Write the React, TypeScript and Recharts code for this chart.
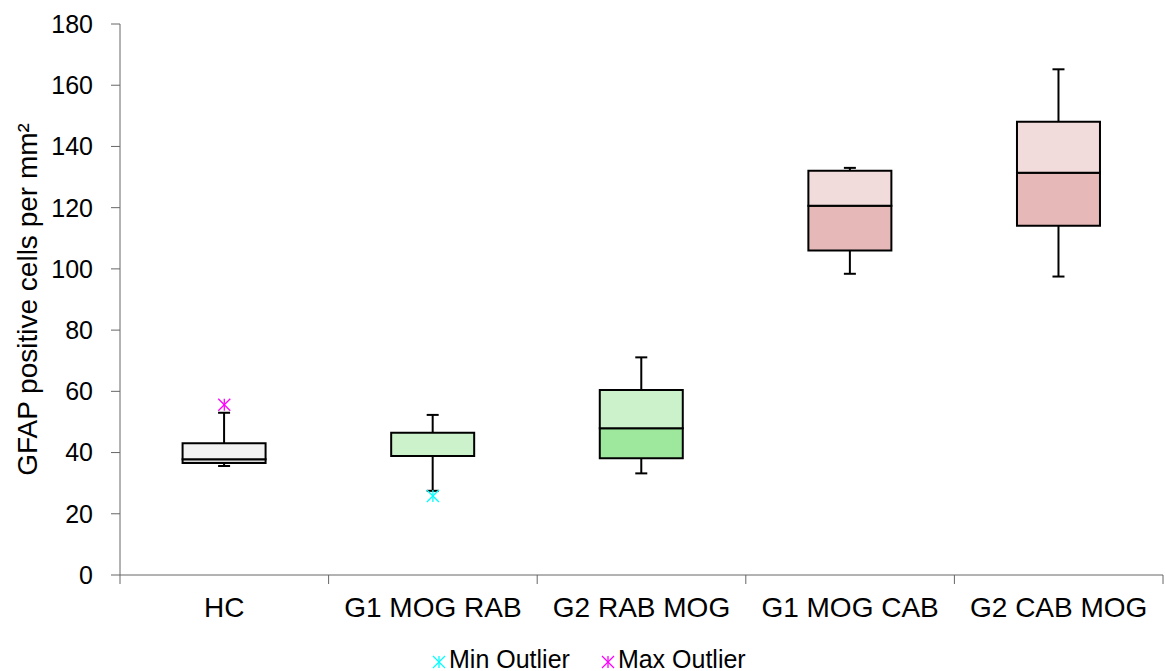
import { Bar, Cell, ComposedChart, Scatter, XAxis, YAxis } from 'recharts';

const categories = ['HC', 'G1 MOG RAB', 'G2 RAB MOG', 'G1 MOG CAB', 'G2 CAB MOG'];
const mins = [35.6, 27.5, 33.2, 98.4, 97.5];
const q1s = [36.6, 38.9, 38.1, 106.0, 114.1];
const medians = [37.8, 38.9, 47.9, 120.6, 131.4];
const q3s = [43.0, 46.5, 60.4, 132.1, 148.1];
const maxs = [53.0, 52.3, 71.1, 133.0, 165.2];
const minOutliers = [null, 25.8, null, null, null];
const maxOutliers = [55.6, null, null, null, null];
const yTicks = [0, 20, 40, 60, 80, 100, 120, 140, 160, 180];

const lowerFills = ['#d9d9d9', '#9de89d', '#9de89d', '#e6b9b8', '#e6b9b8'];
const upperFills = ['#f2f2f2', '#ccf2cc', '#ccf2cc', '#f2dcdb', '#f2dcdb'];

const FONT = '"Liberation Sans", Arial, sans-serif';
const AXIS = '#666';

const data = categories.map((name, i) => ({
  name,
  base: mins[i],
  lowWhisker: q1s[i] - mins[i],
  lowerBox: medians[i] - q1s[i],
  upperBox: q3s[i] - medians[i],
  highWhisker: maxs[i] - q3s[i],
  minOut: minOutliers[i],
  maxOut: maxOutliers[i],
}));

// whisker below the box: cap at the bottom end
const LowWhisker = (props: any) => {
  const { x, y, width, height } = props;
  const cx = x + width / 2;
  const end = y + height;
  return (
    <g stroke="#000" strokeWidth={2}>
      <line x1={cx} y1={y} x2={cx} y2={end} />
      <line x1={cx - 6} y1={end} x2={cx + 6} y2={end} />
    </g>
  );
};

// whisker above the box: cap at the top end
const HighWhisker = (props: any) => {
  const { x, y, width, height } = props;
  const cx = x + width / 2;
  return (
    <g stroke="#000" strokeWidth={2}>
      <line x1={cx} y1={y + height} x2={cx} y2={y} />
      <line x1={cx - 6} y1={y} x2={cx + 6} y2={y} />
    </g>
  );
};

const Star = ({ cx, cy, color, r = 6 }: { cx: number; cy: number; color: string; r?: number }) => (
  <g stroke={color} strokeWidth={1.3}>
    <line x1={cx} y1={cy - r} x2={cx} y2={cy + r} />
    <line x1={cx - r} y1={cy - r} x2={cx + r} y2={cy + r} />
    <line x1={cx - r} y1={cy + r} x2={cx + r} y2={cy - r} />
  </g>
);

const outlierShape = (key: string, color: string) => (props: any) => {
  const v = props.payload ? props.payload[key] : null;
  if (v == null || !Number.isFinite(props.cx) || !Number.isFinite(props.cy)) return <g />;
  return <Star cx={props.cx} cy={props.cy} color={color} />;
};

// category label plus tick marks on the category boundaries
const CategoryTick = (props: any) => {
  const { x, y, payload, index } = props;
  const half = payload && payload.offset ? payload.offset : 0;
  return (
    <g>
      <line x1={x - half} y1={y} x2={x - half} y2={y + 9} stroke={AXIS} />
      {index === categories.length - 1 && (
        <line x1={x + half} y1={y} x2={x + half} y2={y + 9} stroke={AXIS} />
      )}
      <text x={x} y={y + 22} dy="0.71em" textAnchor="middle" fill="#000" fontSize={28} fontFamily={FONT}>
        {payload.value}
      </text>
    </g>
  );
};

const legendItems = [
  { label: 'Min Outlier', color: '#00ffff' },
  { label: 'Max Outlier', color: '#ff00ff' },
];

export default function App() {
  return (
    <div style={{ position: 'absolute', left: 0, top: 0, width: 1165, height: 671, fontFamily: FONT, background: '#fff' }}>
      <ComposedChart
        width={1165}
        height={671}
        data={data}
        margin={{ top: 24, right: 2, bottom: 36, left: 0 }}
        barCategoryGap="30%"
      >
        <XAxis
          dataKey="name"
          stroke={AXIS}
          tickLine={false}
          tickSize={0}
          tickMargin={0}
          height={60}
          interval={0}
          tick={<CategoryTick />}
        />
        <YAxis
          width={120}
          domain={[0, 180]}
          ticks={yTicks}
          interval={0}
          tickSize={9}
          tickMargin={18}
          stroke={AXIS}
          tick={{ fill: '#000', fontSize: 25, fontFamily: FONT }}
          label={{
            value: 'GFAP positive cells per mm²',
            angle: -90,
            position: 'insideLeft',
            offset: 27,
            style: { textAnchor: 'middle', fill: '#000', fontSize: 28, fontFamily: FONT },
          }}
        />
        <Bar dataKey="base" stackId="box" fill="transparent" isAnimationActive={false} />
        <Bar dataKey="lowWhisker" stackId="box" shape={LowWhisker} isAnimationActive={false} />
        <Bar dataKey="lowerBox" stackId="box" stroke="#000" strokeWidth={2} isAnimationActive={false}>
          {data.map((d, i) => (
            <Cell key={d.name} fill={lowerFills[i]} />
          ))}
        </Bar>
        <Bar dataKey="upperBox" stackId="box" stroke="#000" strokeWidth={2} isAnimationActive={false}>
          {data.map((d, i) => (
            <Cell key={d.name} fill={upperFills[i]} />
          ))}
        </Bar>
        <Bar dataKey="highWhisker" stackId="box" shape={HighWhisker} isAnimationActive={false} />
        <Scatter dataKey="minOut" shape={outlierShape('minOut', '#00ffff')} isAnimationActive={false} />
        <Scatter dataKey="maxOut" shape={outlierShape('maxOut', '#ff00ff')} isAnimationActive={false} />
      </ComposedChart>
      <div
        style={{
          position: 'absolute',
          left: 431,
          top: 645,
          display: 'flex',
          alignItems: 'flex-end',
          gap: 30,
          fontSize: 25,
          lineHeight: '28px',
          color: '#000',
        }}
      >
        {legendItems.map((it) => (
          <div key={it.label} style={{ display: 'flex', alignItems: 'flex-end' }}>
            <svg width={16} height={16} style={{ marginBottom: 3, marginRight: 2 }}>
              <Star cx={8} cy={8} color={it.color} />
            </svg>
            <span>{it.label}</span>
          </div>
        ))}
      </div>
    </div>
  );
}
